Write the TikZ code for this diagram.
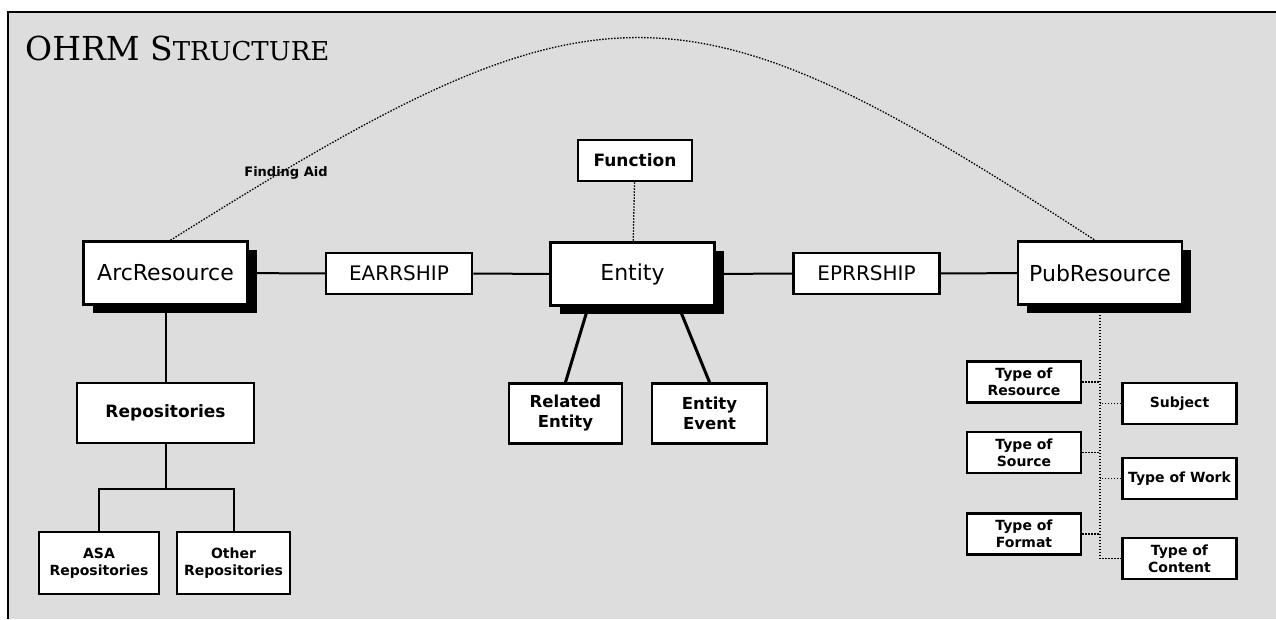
\documentclass[tikz,border=0pt]{standalone}
\usepackage{fontspec}
\setmainfont{DejaVu Sans}
\newfontfamily\titlefont{DejaVu Serif}
\usetikzlibrary{shadows}
\definecolor{panel}{RGB}{221,221,221}
\tikzset{
  box/.style={draw, line width=2.5pt, fill=white, align=center, inner sep=2pt},
  big/.style={box, minimum width=164pt, minimum height=63pt, font=\fontsize{22}{26}\selectfont,
    drop shadow={shadow xshift=9pt, shadow yshift=-8pt, fill=black, opacity=1}},
  rel/.style={box, minimum width=146pt, minimum height=41pt, font=\fontsize{20}{24}\selectfont},
  mid/.style={box, minimum height=60pt, font=\bfseries\fontsize{16.5}{20}\selectfont},
  leaf/.style={box, minimum width=114pt, minimum height=41pt, font=\bfseries\fontsize{14}{17}\selectfont},
  link/.style={line width=2pt},
  dots/.style={line width=1.3pt, dash pattern=on 1.5pt off 1.5pt}
}

\begin{document}
\begin{tikzpicture}[x=1pt,y=-1pt]
\useasboundingbox (0,0) rectangle (1276,619);
\fill[panel] (8,12) rectangle (1276,619);
\draw[line width=2.5pt] (1276,12) -- (8,12) -- (8,619);
\node[anchor=base west, inner sep=0pt] (title) at (25,60)
  {\titlefont\fontsize{33}{33}\selectfont OHRM S\fontsize{26}{26}\selectfont TRUCTURE};
\node[big] (arcres) at (165.5,273) {ArcResource};
\node[rel] (earr) at (399,273.5) {EARRSHIP};
\node[big] (entity) at (632.5,274) {Entity};
\node[rel] (eprr) at (866.5,273.5) {EPRRSHIP};
\node[big] (pubres) at (1100,273) {PubResource};
\node[box, minimum width=114pt, minimum height=41pt, font=\bfseries\fontsize{17}{20}\selectfont]
  (function) at (635,160.5) {Function};
\node[mid, minimum width=113pt] (relent) at (565.5,413.5) {Related\\Entity};
\node[mid, minimum width=115pt] (entev) at (709.5,413.5) {Entity\\Event};
\node[mid, minimum width=177pt, font=\bfseries\fontsize{17}{20}\selectfont] (repos) at (165.5,413) {Repositories};
\node[leaf, minimum width=120pt, minimum height=62pt] (asa) at (99,563) {ASA\\Repositories};
\node[leaf, minimum width=113pt, minimum height=62pt] (other) at (233.5,563) {Other\\Repositories};
\node[leaf] (typeres) at (1024,382) {Type of\\Resource};
\node[leaf] (typesrc) at (1024,452.5) {Type of\\Source};
\node[leaf] (typefmt) at (1024,534) {Type of\\Format};
\node[leaf] (subject) at (1179.5,403.5) {Subject};
\node[leaf] (typework) at (1179.5,478.5) {Type of Work};
\node[leaf] (typecont) at (1179.5,558.5) {Type of\\Content};
\coordinate (fork) at (165.5,489);
\draw[link] (arcres) -- (earr) -- (entity) -- (eprr) -- (pubres);
\draw[link] (arcres) -- (repos) -- (fork);
\draw[link] (asa.north) |- (fork) -| (other.north);
\draw[line width=3pt] ([xshift=39pt]entity.south west) -- (relent.north);
\draw[line width=3pt] ([xshift=-37pt]entity.south east) -- (entev.north);
\draw[dots] (function) -- (entity);
\draw[dots] ([xshift=5pt]arcres.north) .. controls (600,-30) and (680,-30) .. ([xshift=-5pt]pubres.north);
\node[font=\bfseries\fontsize{13}{15}\selectfont] (aid) at (286,173) {Finding Aid};
\draw[dots] (pubres.south) |- (typecont.west);
\foreach \n in {typeres,typesrc,typefmt,subject,typework}
  \draw[dots] (\n) -- (\n -| pubres.south);
\end{tikzpicture}
\end{document}
